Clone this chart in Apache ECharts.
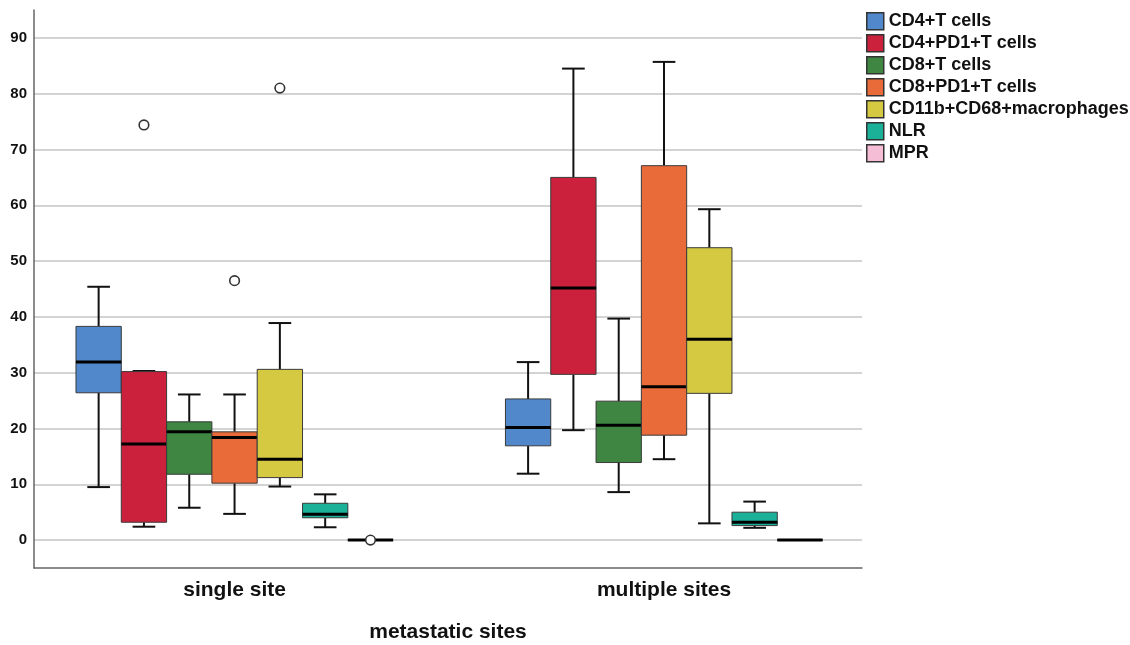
<!DOCTYPE html>
<html><head><meta charset="utf-8">
<script src="https://cdn.jsdelivr.net/npm/echarts@6/dist/echarts.min.js"></script>
<style>html,body{margin:0;padding:0;background:#fff}#c{width:1130px;height:645px}</style>
</head><body><div id="c"></div>
<script>
// ---- data ----
const categories = ['single site', 'multiple sites'];
const seriesNames = ['CD4+T cells', 'CD4+PD1+T cells', 'CD8+T cells', 'CD8+PD1+T cells', 'CD11b+CD68+macrophages', 'NLR', 'MPR'];
// each row: [lower whisker, Q1, median, Q3, upper whisker] for single site, multiple sites
const cd4T      = [[9.5, 26.4, 31.9, 38.3, 45.4], [11.9, 16.9, 20.2, 25.3, 31.9]];
const cd4pd1T   = [[2.4, 3.2, 17.2, 30.2, 30.3], [19.7, 29.7, 45.2, 65.0, 84.5]];
const cd8T      = [[5.8, 11.8, 19.4, 21.2, 26.1], [8.6, 13.9, 20.6, 24.9, 39.7]];
const cd8pd1T   = [[4.7, 10.2, 18.4, 19.4, 26.1], [14.5, 18.8, 27.5, 67.1, 85.7]];
const cd11bMac  = [[9.6, 11.2, 14.5, 30.6, 38.9], [3.0, 26.3, 36.0, 52.4, 59.3]];
const nlr       = [[2.3, 4.0, 4.65, 6.6, 8.2], [2.2, 2.6, 3.2, 5.0, 6.9]];
const mpr       = [[0, 0, 0, 0, 0], [0, 0, 0, 0, 0]];
// outliers: [category index, value]
const cd4TOut     = [];
const cd4pd1TOut  = [[0, 74.4]];
const cd8TOut     = [];
const cd8pd1TOut  = [[0, 46.5]];
const cd11bMacOut = [[0, 81.0]];
const nlrOut      = [];
const mprOut      = [[0, 0]];

const boxSets = [cd4T, cd4pd1T, cd8T, cd8pd1T, cd11bMac, nlr, mpr];
const outSets = [cd4TOut, cd4pd1TOut, cd8TOut, cd8pd1TOut, cd11bMacOut, nlrOut, mprOut];
const colors = ['#5088cb', '#cb213d', '#3e8641', '#ea6b3a', '#d5c941', '#1bb098', '#f6bdd6'];

const BOX_FRAC = 0.1055; // box width as fraction of one category step
const FONT = '"Liberation Sans", Arial, sans-serif';

function boxRenderer(k) {
  return function (params, api) {
    const cat = api.value(0);
    const step = Math.abs(api.coord([1, 0])[0] - api.coord([0, 0])[0]);
    const bw = step * BOX_FRAC;
    const cx = api.coord([cat, 0])[0] + (k - 3) * bw;
    const Y = v => api.coord([cat, v])[1];
    const yl = Y(api.value(1)), yq1 = Y(api.value(2)), ym = Y(api.value(3)), yq3 = Y(api.value(4)), yh = Y(api.value(5));
    const cap = bw * 0.5;
    const ls = { stroke: '#111', lineWidth: 2 };
    const ch = [];
    if (yh < yq3 - 0.5) ch.push({ type: 'line', shape: { x1: cx, y1: yq3, x2: cx, y2: yh }, style: ls });
    if (yl > yq1 + 0.5) ch.push({ type: 'line', shape: { x1: cx, y1: yq1, x2: cx, y2: yl }, style: ls });
    if (yh !== yq1) {
      ch.push({ type: 'line', shape: { x1: cx - cap / 2, y1: yh, x2: cx + cap / 2, y2: yh }, style: ls });
      ch.push({ type: 'line', shape: { x1: cx - cap / 2, y1: yl, x2: cx + cap / 2, y2: yl }, style: ls });
    }
    ch.push({ type: 'rect', shape: { x: cx - bw / 2, y: yq3, width: bw, height: yq1 - yq3 },
      style: { fill: colors[k], stroke: '#3a3a3a', lineWidth: 1 } });
    ch.push({ type: 'line', shape: { x1: cx - bw / 2, y1: ym, x2: cx + bw / 2, y2: ym }, style: { stroke: '#000', lineWidth: 3 } });
    return { type: 'group', children: ch };
  };
}
function outRenderer(k) {
  return function (params, api) {
    const cat = api.value(0);
    const step = Math.abs(api.coord([1, 0])[0] - api.coord([0, 0])[0]);
    const bw = step * BOX_FRAC;
    const p = api.coord([cat, api.value(1)]);
    return { type: 'circle', shape: { cx: p[0] + (k - 3) * bw, cy: p[1], r: 4.8 },
      style: { fill: '#fff', stroke: '#333', lineWidth: 1.6 } };
  };
}

const series = [];
boxSets.forEach((set, k) => {
  series.push({
    name: seriesNames[k], type: 'custom',
    itemStyle: { color: colors[k], borderColor: '#333', borderWidth: 1 },
    encode: { x: 0, y: [1, 2, 3, 4, 5] },
    data: set.map((r, i) => [i].concat(r)),
    renderItem: boxRenderer(k), z: 2
  });
});
outSets.forEach((set, k) => {
  if (!set.length) return;
  series.push({
    name: 'out' + k, type: 'custom',
    encode: { x: 0, y: 1 },
    data: set.map(r => r.slice()),
    renderItem: outRenderer(k), z: 3
  });
});

const chart = echarts.init(document.getElementById('c'), null, { renderer: 'canvas' });
chart.setOption({
  animation: false,
  backgroundColor: '#fff',
  textStyle: { fontFamily: FONT },
  grid: { left: 34, right: 268, top: 10, bottom: 77, outerBoundsMode: 'none', containLabel: false },
  legend: {
    data: seriesNames.map(n => ({ name: n, icon: 'rect' })),
    orient: 'vertical', left: 866, top: 12,
    itemWidth: 17, itemHeight: 17, itemGap: 3.5,
    selectedMode: false, padding: 0,
    itemStyle: { borderColor: '#333', borderWidth: 1.5 },
    textStyle: { fontSize: 18, lineHeight: 17, fontWeight: 'bold', color: '#111', fontFamily: FONT }
  },
  xAxis: {
    type: 'value', min: -0.467, max: 1.461, splitNumber: 2,
    axisTick: { show: false },
    axisLine: { onZero: false, lineStyle: { color: '#666', width: 1.5 } },
    axisLabel: { fontSize: 21, fontWeight: 'bold', color: '#111', margin: 12, fontFamily: FONT,
      showMinLabel: false, showMaxLabel: false,
      formatter: v => (Math.abs(v - Math.round(v)) < 1e-6 && categories[Math.round(v)]) || '' },
    splitLine: { show: false },
    name: 'metastatic sites', nameLocation: 'middle', nameGap: 54,
    nameTextStyle: { fontSize: 21, fontWeight: 'bold', color: '#111', fontFamily: FONT }
  },
  yAxis: {
    type: 'value', min: -5, max: 95, splitNumber: 10,
    axisLine: { show: true, onZero: false, lineStyle: { color: '#666', width: 1.5 } },
    axisTick: { show: false },
    axisLabel: { fontSize: 15, fontWeight: 'bold', color: '#111', margin: 7, fontFamily: FONT,
      showMinLabel: false, showMaxLabel: false },
    splitLine: { show: true, showMinLine: false, showMaxLine: false, lineStyle: { color: '#c4c4c4', width: 1.5 } }
  },
  series: series
});
</script>
</body></html>
